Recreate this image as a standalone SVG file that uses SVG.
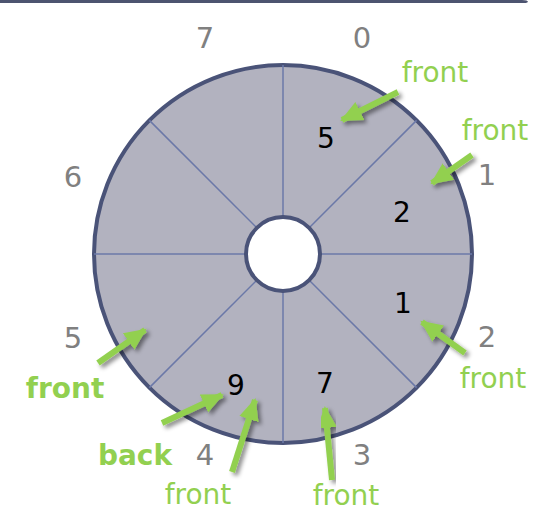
<svg xmlns="http://www.w3.org/2000/svg" width="538" height="512" viewBox="0 0 538 512">
<style>
.g{font-family:"DejaVu Sans",Verdana,sans-serif;font-size:29px;fill:#808080;text-anchor:middle}
.b{font-family:"DejaVu Sans",Verdana,sans-serif;font-size:28px;fill:#000;text-anchor:middle}
.f{font-family:"DejaVu Sans",Verdana,sans-serif;font-size:28px;fill:#92d050;text-anchor:middle}
.fb{font-weight:bold}
.sep{stroke:#6b78a8;stroke-width:1.5}
.arr{stroke:#92d050;stroke-width:6;fill:none;marker-end:url(#ah);filter:url(#sh)}
</style>
<defs>
<marker id="ah" markerUnits="userSpaceOnUse" markerWidth="24" markerHeight="24" viewBox="0 0 24 24" refX="20" refY="12" orient="auto">
<path d="M0,2 L22,12 L0,22 Z" fill="#92d050"/>
</marker>
<filter id="sh" x="-50%" y="-50%" width="200%" height="200%">
<feDropShadow dx="3" dy="3" stdDeviation="2" flood-color="#000" flood-opacity="0.45"/>
</filter>
</defs>
<path d="M0,0 H522 Q528,0 528,2 L526,3 H0 Z" fill="#4d5470"/>
<g id="ring">
<circle cx="283" cy="254" r="189" fill="#b2b2bf" stroke="#4a5378" stroke-width="4"/>
<g class="sep">
<line x1="283" y1="65" x2="283" y2="217"/>
<line x1="283" y1="291" x2="283" y2="443"/>
<line x1="94" y1="254" x2="246" y2="254"/>
<line x1="320" y1="254" x2="472" y2="254"/>
<line x1="149.4" y1="120.4" x2="256.8" y2="227.8"/>
<line x1="309.2" y1="280.2" x2="416.6" y2="387.6"/>
<line x1="416.6" y1="120.4" x2="309.2" y2="227.8"/>
<line x1="256.8" y1="280.2" x2="149.4" y2="387.6"/>
</g>
<circle cx="283" cy="254" r="37" fill="#fff" stroke="#4a5378" stroke-width="4"/>
</g>
<g id="indices">
<text class="g" x="205" y="48">7</text>
<text class="g" x="362" y="48">0</text>
<text class="g" x="487" y="185">1</text>
<text class="g" x="487" y="347">2</text>
<text class="g" x="362" y="465">3</text>
<text class="g" x="205" y="465">4</text>
<text class="g" x="73" y="348">5</text>
<text class="g" x="73" y="187">6</text>
</g>
<g id="values">
<text class="b" x="326" y="148">5</text>
<text class="b" x="402" y="222">2</text>
<text class="b" x="403" y="313">1</text>
<text class="b" x="325" y="393">7</text>
<text class="b" x="236" y="395">9</text>
</g>
<g id="connectors">
<line class="arr" x1="398" y1="92" x2="342" y2="120"/>
<line class="arr" x1="472" y1="155" x2="432" y2="183"/>
<line class="arr" x1="465" y1="353" x2="422" y2="322"/>
<line class="arr" x1="332" y1="480" x2="325" y2="408"/>
<line class="arr" x1="98" y1="363" x2="145" y2="330"/>
<line class="arr" x1="162" y1="423" x2="222" y2="395"/>
<line class="arr" x1="232" y1="472" x2="255" y2="400"/>
</g>
<g id="labels">
<text class="f" x="435" y="82">front</text>
<text class="f" x="495" y="140">front</text>
<text class="f" x="493" y="388">front</text>
<text class="f" x="346" y="505">front</text>
<text class="f" x="198" y="504">front</text>
<text class="f fb" x="65" y="398">front</text>
<text class="f fb" x="135" y="465">back</text>
</g>
</svg>
